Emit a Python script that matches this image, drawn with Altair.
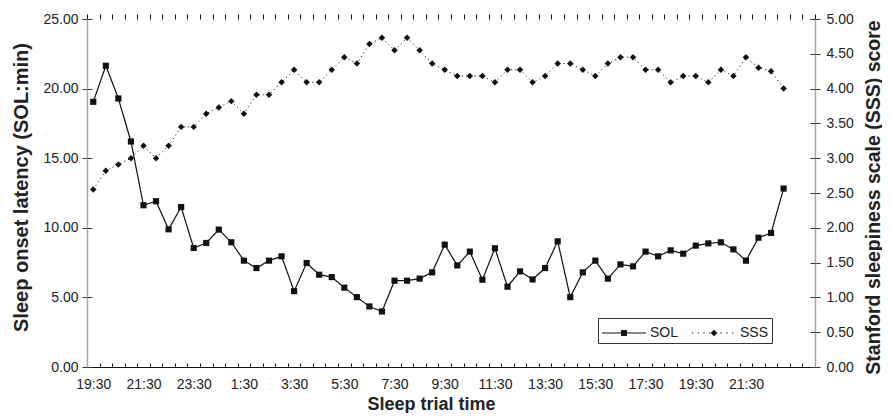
import altair as alt
import pandas as pd

# ---------------- data ----------------
times = ["19:30", "20:00", "20:30", "21:00", "21:30", "22:00", "22:30", "23:00",
         "23:30", "0:00", "0:30", "1:00", "1:30", "2:00", "2:30", "3:00",
         "3:30", "4:00", "4:30", "5:00", "5:30", "6:00", "6:30", "7:00",
         "7:30", "8:00", "8:30", "9:00", "9:30", "10:00", "10:30", "11:00",
         "11:30", "12:00", "12:30", "13:00", "13:30", "14:00", "14:30", "15:00",
         "15:30", "16:00", "16:30", "17:00", "17:30", "18:00", "18:30", "19:00",
         "19:30", "20:00", "20:30", "21:00", "21:30", "22:00", "22:30", "23:00"]

sol = [19.05, 21.64, 19.29, 16.20, 11.62, 11.91, 9.89, 11.49,
       8.55, 8.91, 9.87, 8.96, 7.64, 7.11, 7.64, 7.95,
       5.45, 7.47, 6.63, 6.46, 5.70, 5.02, 4.35, 3.99,
       6.20, 6.20, 6.35, 6.80, 8.79, 7.30, 8.29, 6.27,
       8.53, 5.77, 6.87, 6.29, 7.11, 9.03, 5.02, 6.80,
       7.64, 6.35, 7.37, 7.23, 8.29, 7.95, 8.38, 8.14,
       8.72, 8.88, 8.96, 8.45, 7.64, 9.29, 9.63, 12.82]

sss = [2.55, 2.82, 2.91, 3.00, 3.18, 3.00, 3.18, 3.45,
       3.45, 3.64, 3.73, 3.82, 3.64, 3.91, 3.91, 4.09,
       4.27, 4.09, 4.09, 4.27, 4.45, 4.36, 4.64, 4.73,
       4.55, 4.73, 4.55, 4.36, 4.27, 4.18, 4.18, 4.18,
       4.09, 4.27, 4.27, 4.09, 4.18, 4.36, 4.36, 4.27,
       4.18, 4.36, 4.45, 4.45, 4.27, 4.27, 4.09, 4.18,
       4.18, 4.09, 4.27, 4.18, 4.45, 4.30, 4.25, 4.00]

tick_labels = ["19:30", "21:30", "23:30", "1:30", "3:30", "5:30", "7:30",
               "9:30", "11:30", "13:30", "15:30", "17:30", "19:30", "21:30"]
label_every = 4
n_categories = 58

sol_ticks = [0, 5, 10, 15, 20, 25]
sss_ticks = [0, 0.5, 1, 1.5, 2, 2.5, 3, 3.5, 4, 4.5, 5]
series_names = ["SOL", "SSS"]

df = pd.DataFrame({"idx": list(range(len(times))), "time": times,
                   "SOL": sol, "SSS": sss})
legend_df = pd.DataFrame({"series": series_names})

# ---------------- styling helpers ----------------
FONT = "Liberation Sans"
INK = "#111111"
TXT = "#222222"
GRAY = "#a8a8a8"

label_pos = [i * label_every for i in range(len(tick_labels))]
tick_pos = [i - 0.5 for i in range(n_categories + 1)]
label_expr = "[" + ",".join("'%s'" % t for t in tick_labels) + "][round(datum.value/%d)]" % label_every

xscale = alt.Scale(domain=[-0.5, n_categories - 0.5], nice=False, zero=False)
sol_scale = alt.Scale(domain=[0, 25], nice=False)
sss_scale = alt.Scale(domain=[0, 5], nice=False)

# legend symbols: line + marker drawn as filled custom paths (unit = 11 px)
def rect(x0, x1, h):
    return "M%.3f,%.3fH%.3fV%.3fH%.3fZ" % (x0, -h, x1, h, x0)

def dots(center, half, step, skip):
    segs = []
    x = center - half
    while x <= center + half + 1e-9:
        if abs(x - center) > skip:
            segs.append(rect(x - 0.06, x + 0.06, 0.055))
        x += step
    return "".join(segs)

sol_path = rect(-1, 3, 0.05) + rect(0.73, 1.27, 0.27)
sss_path = dots(1, 1.95, 0.52, 0.3) + "M1,-0.3L1.3,0L1,0.3L0.7,0Z"

# ---------------- layers ----------------
base = alt.Chart(df)

sol_layer = base.mark_line(
    color=INK, strokeWidth=1.2,
    point=alt.OverlayMarkDef(shape="square", size=38, filled=True, color=INK, opacity=1)
).encode(
    x=alt.X("idx:Q", scale=xscale,
            axis=alt.Axis(values=label_pos, labelExpr=label_expr, ticks=False, tickSize=0,
                          labelPadding=10, domain=True, domainColor=INK, domainWidth=1,
                          grid=False, labelFlush=False, labelOverlap=False,
                          labelFont=FONT, labelFontSize=14, labelColor=TXT,
                          title="Sleep trial time", titleFont=FONT, titleFontSize=18,
                          titleFontWeight="bold", titleColor=TXT,
                          titleX=344, titleY=42, titleBaseline="alphabetic")),
    y=alt.Y("SOL:Q", scale=sol_scale,
            axis=alt.Axis(orient="left", values=sol_ticks, format=".2f", tickSize=5,
                          tickColor="#333333", domainColor=GRAY, domainWidth=1.5, grid=False,
                          labelPadding=4, labelFont=FONT, labelFontSize=14, labelColor=TXT,
                          title="Sleep onset latency (SOL:min)", titleFont=FONT,
                          titleFontSize=20, titleFontWeight="bold", titleColor=TXT,
                          titleAngle=270, titleX=-60, titleY=168,
                          titleBaseline="alphabetic")),
)

sss_layer = base.mark_line(
    color="#333333", strokeWidth=1, strokeDash=[1.3, 3],
    point=alt.OverlayMarkDef(shape="diamond", size=42, filled=True, color=INK, opacity=1)
).encode(
    x=alt.X("idx:Q", scale=xscale,
            axis=alt.Axis(values=tick_pos, tickSize=5, tickColor=INK, labels=False,
                          domain=False, grid=False, title=None)),
    y=alt.Y("SSS:Q", scale=sss_scale,
            axis=alt.Axis(orient="right", values=sss_ticks, format=".2f", tickSize=5,
                          tickColor="#333333", domainColor=GRAY, domainWidth=1.5, grid=False,
                          labelPadding=6, labelFont=FONT, labelFontSize=14, labelColor=TXT,
                          title="Stanford sleepiness scale (SSS) score", titleFont=FONT,
                          titleFontSize=19.5, titleFontWeight="bold", titleColor=TXT,
                          titleAngle=270, titleX=64, titleY=178,
                          titleBaseline="alphabetic")),
)

# inward halves of the crossing tick marks
inner_left = base.mark_point(opacity=0).encode(
    x=alt.X("idx:Q", scale=xscale,
            axis=alt.Axis(values=tick_pos, orient="bottom", offset=-4, tickSize=4,
                          tickColor=INK, labels=False, domain=False, grid=False, title=None)),
    y=alt.Y("SOL:Q", scale=sol_scale,
            axis=alt.Axis(orient="left", values=sol_ticks, offset=-5, tickSize=5,
                          tickColor="#333333", labels=False, domain=False, grid=False,
                          title=None)),
)

inner_right = base.mark_point(opacity=0).encode(
    x=alt.X("idx:Q", scale=xscale, axis=None),
    y=alt.Y("SSS:Q", scale=sss_scale,
            axis=alt.Axis(orient="right", values=sss_ticks, offset=-5, tickSize=5,
                          tickColor="#333333", labels=False, domain=False, grid=False,
                          title=None)),
)

legend_layer = alt.Chart(legend_df).mark_point(
    size=121, filled=True, color=INK, opacity=1
).encode(
    shape=alt.Shape("series:N",
                    scale=alt.Scale(domain=series_names, range=[sol_path, sss_path]),
                    legend=alt.Legend(orient="none", legendX=511, legendY=299,
                                      direction="horizontal", title=None,
                                      labelFont=FONT, labelFontSize=14, labelColor=TXT,
                                      symbolSize=484, symbolFillColor=INK,
                                      labelOffset=25, columnPadding=9, padding=3,
                                      strokeColor="#333333", fillColor="white",
                                      cornerRadius=0)),
).transform_filter("false")

chart = alt.layer(sol_layer, sss_layer, inner_left, inner_right, legend_layer).resolve_scale(
    y="independent"
).resolve_axis(
    x="independent", y="independent"
).properties(
    width=728, height=348,
    autosize=alt.AutoSizeParams(type="none"),
    padding={"left": 79, "top": 11, "right": 67, "bottom": 46},
    background="white",
).configure_view(strokeWidth=0)

chart.save("out.html", embed_options={"renderer": "svg", "actions": False})
